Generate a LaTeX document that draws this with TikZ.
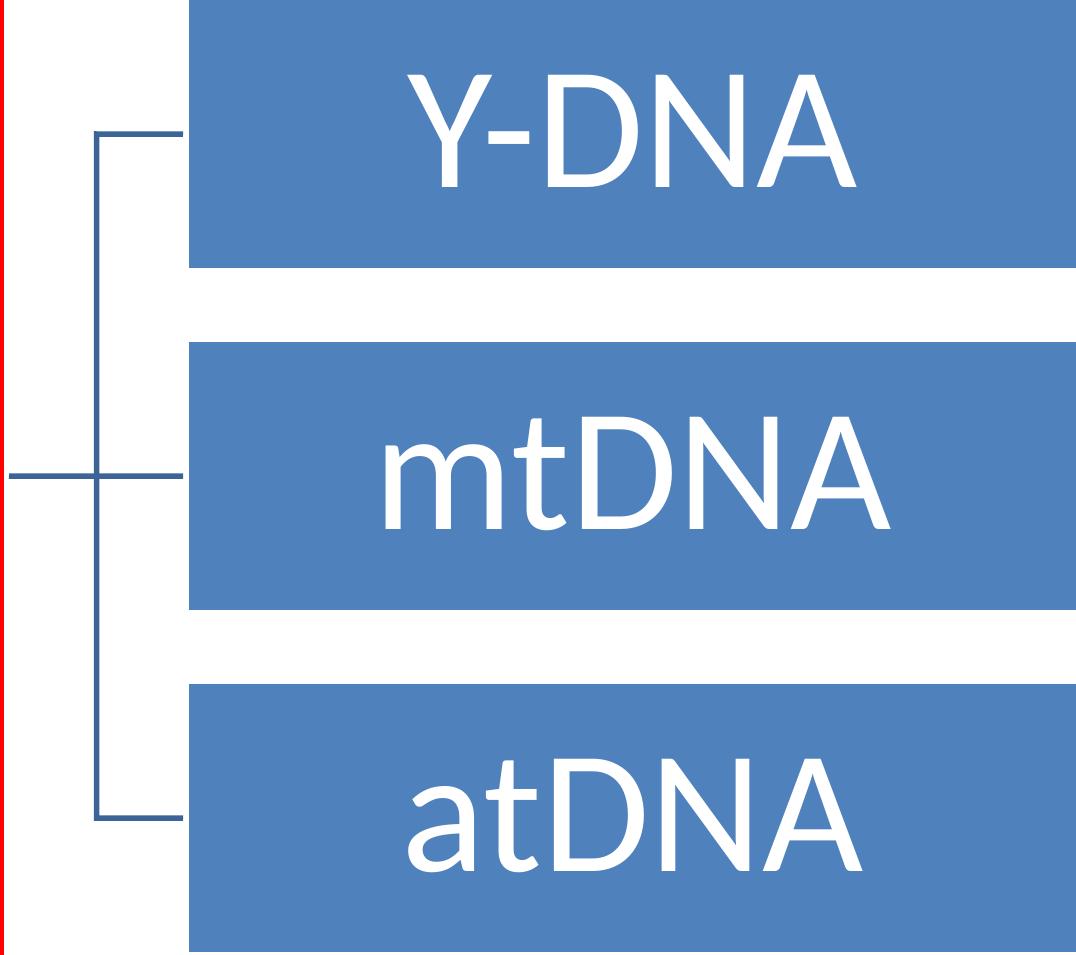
\documentclass[tikz,border=0pt]{standalone}
\usepackage{fontspec}
\setmainfont{Carlito}
\definecolor{boxblue}{HTML}{4F81BD}
\definecolor{linkblue}{HTML}{3D6496}
\newcommand{\dnalabel}[1]{\raisebox{5pt}{#1}}
\begin{document}
\begin{tikzpicture}[x=1pt,y=-1pt,
  dnabox/.style={fill=boxblue,draw=none,minimum width=887pt,minimum height=268pt,inner sep=0pt,anchor=north west,text=white,font=\fontsize{175}{175}\selectfont},
  link/.style={draw=linkblue,line width=5.5pt}]
\useasboundingbox[fill=white] (0,0) rectangle (1076,955);
\fill[red] (0,0) rectangle (3.5,955);
\node[dnabox] (y) at (189,0) {\dnalabel{Y-DNA}};
\node[dnabox] (mt) at (189,342) {\dnalabel{mtDNA}};
\node[dnabox] (at) at (189,684) {\dnalabel{atDNA}};
\coordinate (root) at (9,476);
\coordinate (jt) at (96.5,134);
\coordinate (jb) at (96.5,818);
\draw[link] ([xshift=-6pt]y.west) -- (jt) -- (jb) -- ([xshift=-6pt]at.west);
\draw[link] (root) -- ([xshift=-6pt]mt.west);
\end{tikzpicture}
\end{document}
